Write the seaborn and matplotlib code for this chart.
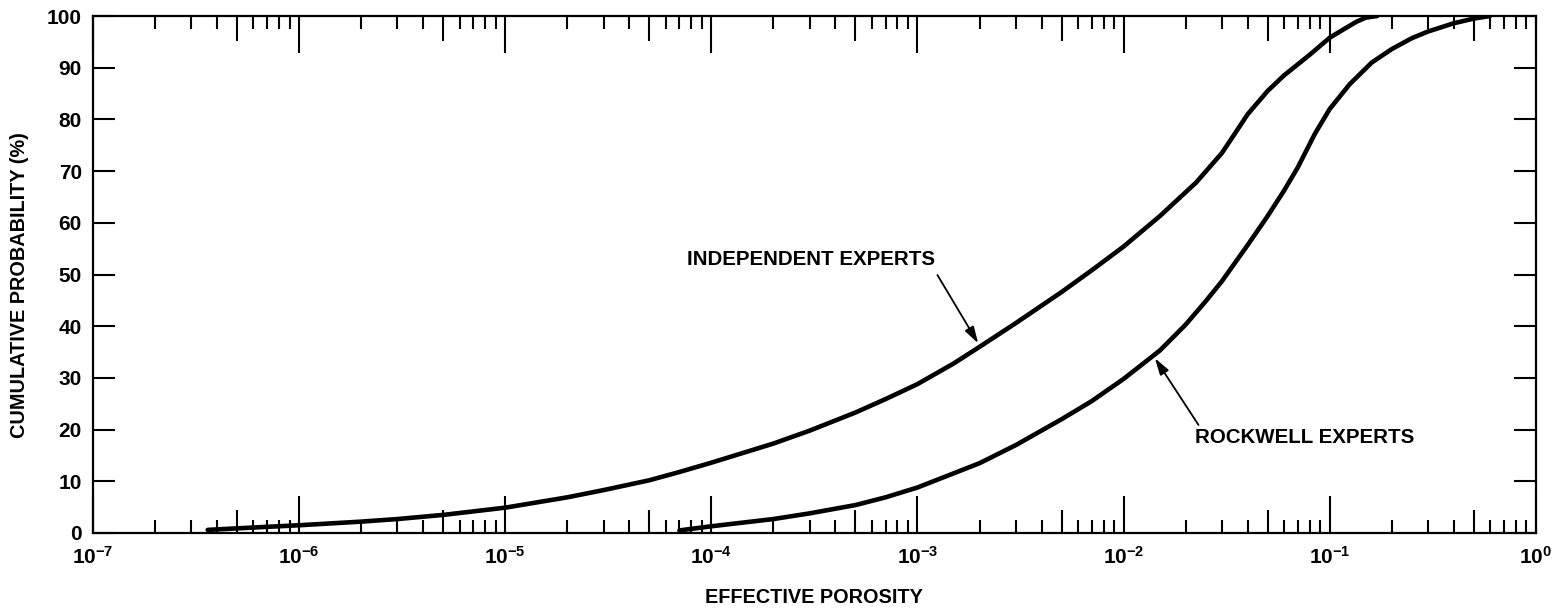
import numpy as np
import pandas as pd
import matplotlib
matplotlib.use("Agg")
import matplotlib.pyplot as plt
import seaborn as sns
from matplotlib.ticker import FixedLocator, FuncFormatter

# values (effective porosity vs cumulative %)
indep_x = [3.6e-7, 5e-7, 1e-6, 2e-6, 3e-6, 5e-6, 1e-5, 2e-5, 3e-5, 5e-5, 7e-5, 1e-4,
           2e-4, 3e-4, 5e-4, 7e-4, 1e-3, 1.5e-3, 2e-3, 3e-3, 5e-3, 7e-3, 1e-2,
           1.5e-2, 2.25e-2, 3e-2, 3.5e-2, 4e-2, 5e-2, 6e-2, 8e-2, 1e-1, 1.2e-1,
           1.35e-1, 1.5e-1, 1.7e-1]
indep_y = [0.6, 0.9, 1.5, 2.2, 2.7, 3.5, 4.9, 6.9, 8.3, 10.2, 11.8, 13.6,
           17.3, 19.8, 23.3, 25.9, 28.8, 32.8, 36.0, 40.6, 46.6, 50.8, 55.4,
           61.3, 67.8, 73.5, 77.5, 81.0, 85.5, 88.5, 92.5, 95.8, 97.7,
           98.9, 99.7, 100.0]

rock_x = [7e-5, 1e-4, 2e-4, 3e-4, 5e-4, 7e-4, 1e-3, 2e-3, 3e-3, 5e-3, 7e-3, 1e-2,
          1.5e-2, 2e-2, 2.5e-2, 3e-2, 4e-2, 5e-2, 6e-2, 7e-2, 8.5e-2, 1e-1,
          1.25e-1, 1.6e-1, 2e-1, 2.5e-1, 3e-1, 4e-1, 5e-1, 6e-1]
rock_y = [0.5, 1.3, 2.7, 3.8, 5.4, 6.9, 8.8, 13.5, 17.0, 22.0, 25.5, 29.8,
          35.3, 40.3, 44.8, 48.7, 55.7, 61.3, 66.2, 70.7, 77.3, 82.0,
          86.8, 91.0, 93.6, 95.7, 97.0, 98.6, 99.5, 100.0]

decades = [1e-7, 1e-6, 1e-5, 1e-4, 1e-3, 1e-2, 1e-1, 1e0]
y_ticks = [0, 10, 20, 30, 40, 50, 60, 70, 80, 90, 100]

df = pd.concat([
    pd.DataFrame({"porosity": indep_x, "prob": indep_y, "group": "INDEPENDENT EXPERTS"}),
    pd.DataFrame({"porosity": rock_x, "prob": rock_y, "group": "ROCKWELL EXPERTS"}),
])

sns.set_style("ticks")
plt.rcParams["font.family"] = ["Liberation Sans", "DejaVu Sans"]
plt.rcParams["font.weight"] = "bold"
plt.rcParams["text.color"] = "black"
plt.rcParams["axes.labelcolor"] = "black"
plt.rcParams["xtick.color"] = "black"
plt.rcParams["ytick.color"] = "black"

fig = plt.figure(figsize=(15.56, 6.09), dpi=100)
ax = fig.add_axes([0.0598, 0.1248, 0.9272, 0.8489])

sns.lineplot(data=df, x="porosity", y="prob", units="group", estimator=None,
             color="black", lw=3.3, ax=ax, legend=False)

ax.set_xscale("log")
ax.set_xlim(1e-7, 1)
ax.set_ylim(0, 100)

for s in ax.spines.values():
    s.set_linewidth(1.6)
    s.set_color("black")

# x ticks: decades long, 5x medium, others short
fives = [5 * d for d in decades[:-1]]
minors = [m * d for d in decades[:-1] for m in (2, 3, 4, 6, 7, 8, 9)]
ax.xaxis.set_major_locator(FixedLocator(decades + fives))
ax.xaxis.set_minor_locator(FixedLocator(minors))


def fmt(v, pos):
    e = int(round(np.log10(v)))
    if abs(v - 10.0 ** e) / v > 1e-6:
        return ""
    return r"$\mathdefault{10^{%d}}$" % e


ax.xaxis.set_major_formatter(FuncFormatter(fmt))
ax.tick_params(axis="x", which="major", direction="in", top=True, bottom=True,
               length=26.6, width=1.5, labelsize=15, pad=9, colors="black")
ax.tick_params(axis="x", which="minor", direction="in", top=True, bottom=True,
               length=9.2, width=1.5, colors="black")
ax.set_yticks(y_ticks)
ax.tick_params(axis="y", which="major", direction="in", left=True, right=True,
               length=16, width=1.5, labelsize=15, pad=8, colors="black")
ax.tick_params(axis="y", which="minor", left=False, right=False)

for t, loc in zip(ax.xaxis.get_major_ticks(), decades + fives):
    if loc in fives:
        t.tick1line.set_markersize(16.5)
        t.tick2line.set_markersize(18)

for lab in ax.get_xticklabels() + ax.get_yticklabels():
    lab.set_fontweight("bold")

ax.set_xlabel("EFFECTIVE POROSITY", fontsize=14.3, fontweight="bold", labelpad=15)
ax.set_ylabel("CUMULATIVE PROBABILITY (%)", fontsize=14.3, fontweight="bold")
ax.yaxis.set_label_coords(-0.0443, 0.48)

# labels with arrows
ax.text(3.05e-4, 52.9, "INDEPENDENT EXPERTS", ha="center", va="center",
        fontsize=14.8, fontweight="bold")
ax.annotate("", xy=(1.97e-3, 36.7), xytext=(1.25e-3, 49.9),
            arrowprops=dict(arrowstyle="-|>,head_length=1.0,head_width=0.3",
                            color="black", lw=1.3, shrinkA=0, shrinkB=0))
ax.text(7.6e-2, 18.5, "ROCKWELL EXPERTS", ha="center", va="center",
        fontsize=14.8, fontweight="bold")
ax.annotate("", xy=(1.42e-2, 33.8), xytext=(2.31e-2, 20.9),
            arrowprops=dict(arrowstyle="-|>,head_length=1.0,head_width=0.3",
                            color="black", lw=1.3, shrinkA=0, shrinkB=0))

fig.savefig("out.png", dpi=100)
